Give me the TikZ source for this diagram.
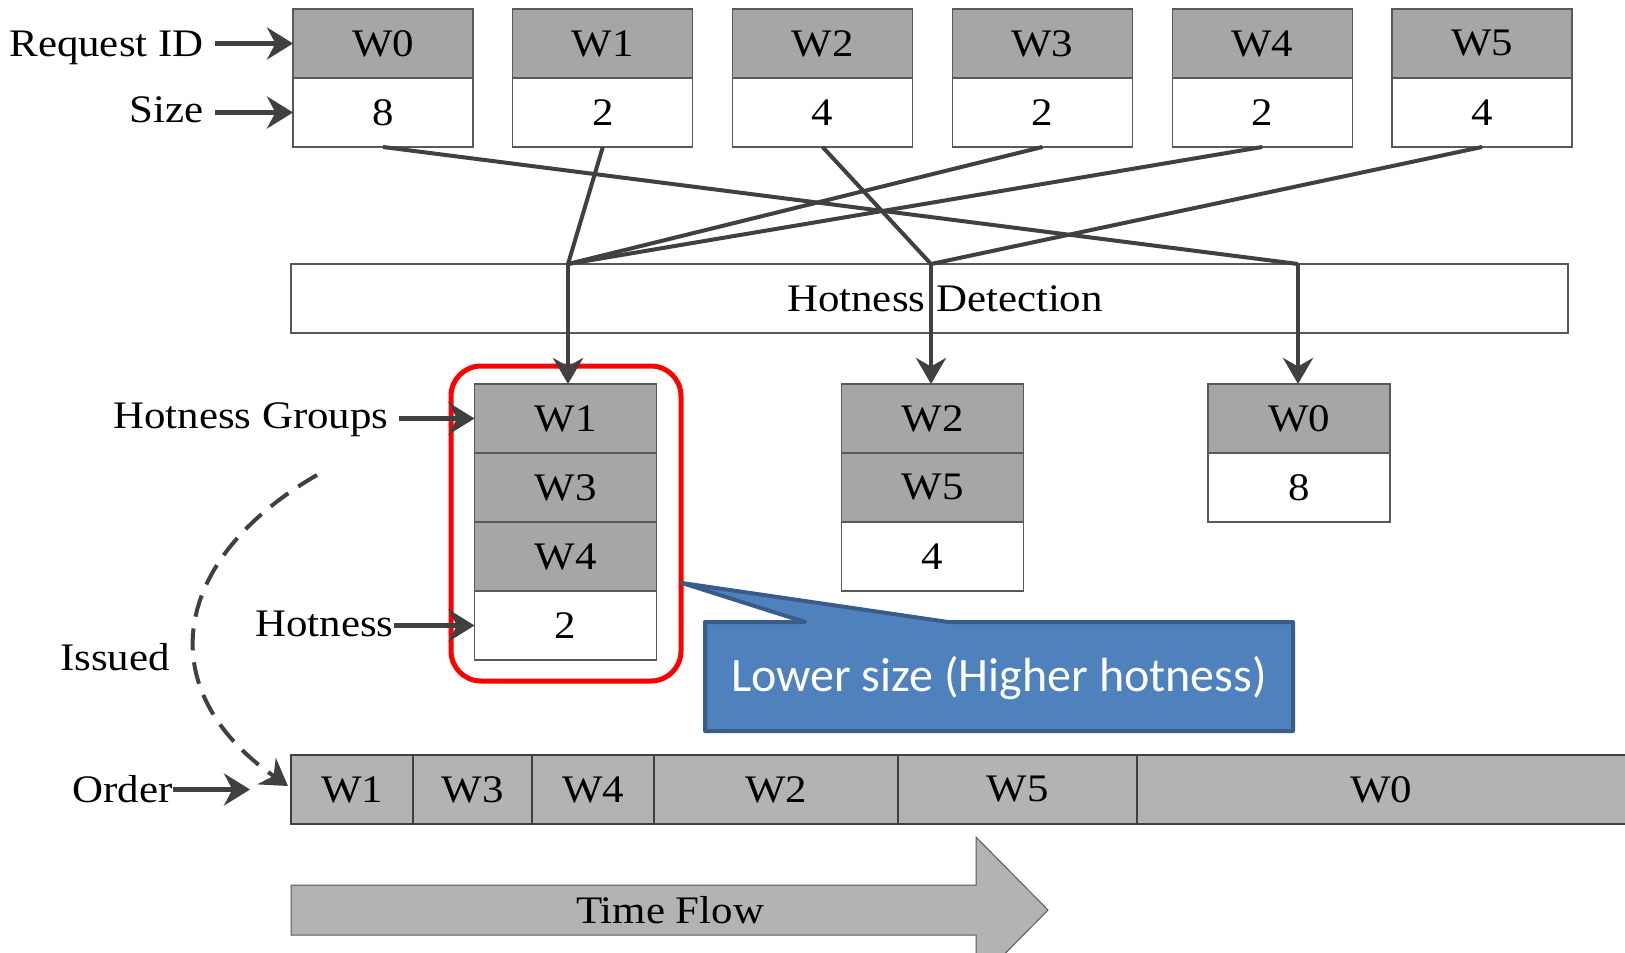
\documentclass[tikz,border=0pt]{standalone}
\usepackage{fontspec}
\setmainfont{Liberation Serif}[FakeStretch=1.1]
\newfontfamily\calloutfont{Carlito}
\usetikzlibrary{arrows.meta}

\definecolor{cellgray}{HTML}{A6A6A6}
\definecolor{bargray}{HTML}{B3B3B3}
\definecolor{boxedge}{HTML}{595959}
\definecolor{linkgray}{HTML}{404040}
\definecolor{calloutfill}{HTML}{4F81BD}
\definecolor{calloutedge}{HTML}{385D8A}
\definecolor{hotred}{HTML}{FF0000}

\newcommand\wfont{\fontsize{19.5}{23}\selectfont}

\tikzset{
  cell/.style={draw=boxedge, line width=0.6pt, minimum width=90pt, minimum height=34.5pt,
    inner sep=0pt, outer sep=0pt, font=\wfont},
  idcell/.style={cell, fill=cellgray},
  valcell/.style={cell, fill=white},
  grpcell/.style={cell, minimum width=91pt},
  barcell/.style={draw=linkgray, line width=0.6pt, fill=bargray, minimum height=34.5pt,
    inner sep=0pt, outer sep=0pt, font=\wfont},
  lbl/.style={font=\wfont, inner sep=0pt},
  link/.style={draw=linkgray, line width=2pt},
  flow/.style={link, -{Stealth[length=13pt,width=15pt]}},
  pointer/.style={draw=linkgray, line width=2.8pt, -{Stealth[length=13pt,width=16pt]}},
  issue/.style={draw=linkgray, line width=2pt, dash pattern=on 11pt off 6pt,
    -{Stealth[length=13pt,width=16pt]}},
  hotframe/.style={draw=hotred, line width=2.5pt, rounded corners=15pt},
  callout/.style={draw=calloutedge, fill=calloutfill, line width=2pt, line join=round},
}

\begin{document}
\begin{tikzpicture}[x=0.5pt, y=-0.5pt]
\useasboundingbox (0,0) rectangle (1625,952);
\fill[white] (0,0) rectangle (1625,952);

% incoming requests: id and size
\foreach \i/\s in {0/8,1/2,2/4,3/2,4/2,5/4} {
  \node[idcell] (id\i) at ({383+219.8*\i},43.5) {W\i};
  \node[valcell] (sz\i) at ({383+219.8*\i},112.5) {\s};
}
\node[lbl, anchor=east] (lreq) at (204,47.5) {Request ID};
\node[lbl, anchor=east] (lsize) at (204,110) {Size};
\draw[pointer] ([xshift=5.5pt]lreq.east |- id0.west) -- (id0.west);
\draw[pointer] ([xshift=5.5pt]lsize.east |- sz0.west) -- (sz0.west);

% hotness detection stage
\node[draw=boxedge, line width=0.6pt, minimum width=638.5pt, minimum height=34.5pt,
  inner sep=0pt, outer sep=0pt] (hd) at (929.5,298.5) {};
\node[lbl] (hdtext) at (945,298.5) {Hotness Detection};

% hotness groups
\node[grpcell, fill=cellgray] (g1a) at (565.5,418.5) {W1};
\node[grpcell, fill=cellgray] (g1b) at (565.5,487.5) {W3};
\node[grpcell, fill=cellgray] (g1c) at (565.5,556.5) {W4};
\node[grpcell, fill=white]    (g1v) at (565.5,625.5) {2};

\node[grpcell, fill=cellgray] (g2a) at (932.5,418.5) {W2};
\node[grpcell, fill=cellgray] (g2b) at (932.5,487.5) {W5};
\node[grpcell, fill=white]    (g2v) at (932.5,556.5) {4};

\node[grpcell, fill=cellgray] (g3a) at (1299,418.5) {W0};
\node[grpcell, fill=white]    (g3v) at (1299,487.5) {8};

\draw[hotframe] (451,366) rectangle (681,681);

% routing of requests into groups
\coordinate (fanL) at (568,264);
\coordinate (fanM) at (931,264);
\coordinate (fanR) at (1298,264);
\draw[link] (sz1.south) -- (fanL);
\draw[link] (sz3.south) -- (fanL);
\draw[link] (sz4.south) -- (fanL);
\draw[link] (sz2.south) -- (fanM);
\draw[link] (sz5.south) -- (fanM);
\draw[link] (sz0.south) -- (fanR);
\draw[flow] (fanL) -- (fanL |- g1a.north);
\draw[flow] (fanM) -- (fanM |- g2a.north);
\draw[flow] (fanR) -- (fanR |- g3a.north);

\node[lbl, anchor=east] (lgroups) at (389,420) {Hotness Groups};
\draw[pointer] ([xshift=5pt]lgroups.east |- g1a.west) -- (g1a.west);
\node[lbl, anchor=east] (lhot) at (394,624) {Hotness};
\draw[pointer] (lhot.east |- g1v.west) -- (g1v.west);

% issue order
\node[barcell, minimum width=61pt]   (b1) at (352,789.5) {W1};
\node[barcell, minimum width=59.5pt] (b2) at (472.5,789.5) {W3};
\node[barcell, minimum width=61pt]   (b3) at (593,789.5) {W4};
\node[barcell, minimum width=122pt]  (b4) at (776,789.5) {W2};
\node[barcell, minimum width=119.5pt] (b5) at (1017.5,789.5) {W5};
\node[barcell, minimum width=250pt]  (b6) at (1387,789.5) {};
\node[lbl] (b6text) at (1381,789.5) {W0};

\node[lbl] (lissued) at (115,657) {Issued};
\node[lbl, anchor=east] (lorder) at (173,789) {Order};
\coordinate (ordtip) at (250,789.5);
\draw[pointer] (lorder.east |- ordtip) -- (ordtip);
\coordinate (arcstart) at (317,475);
\coordinate (arcend) at (288,786);
\draw[issue] (arcstart) .. controls (170,560) and (150,690) .. (arcend);

% time axis
\draw[fill=bargray, draw=boxedge, line width=0.5pt, line join=miter]
  (291,885) -- (976,885) -- (976,837) -- (1048,910) -- (976,983) -- (976,935) -- (291,935) -- cycle;
\node[lbl] (ltime) at (670,910) {Time Flow};

% callout
\draw[callout] (705,622) -- (805,622) -- (682,583) -- (948,622) -- (1293,622)
  -- (1293,731) -- (705,731) -- cycle;
\node[font=\calloutfont\fontsize{24}{28}\selectfont, text=white, inner sep=0pt]
  (note) at (999,678) {Lower size (Higher hotness)};
\end{tikzpicture}
\end{document}
